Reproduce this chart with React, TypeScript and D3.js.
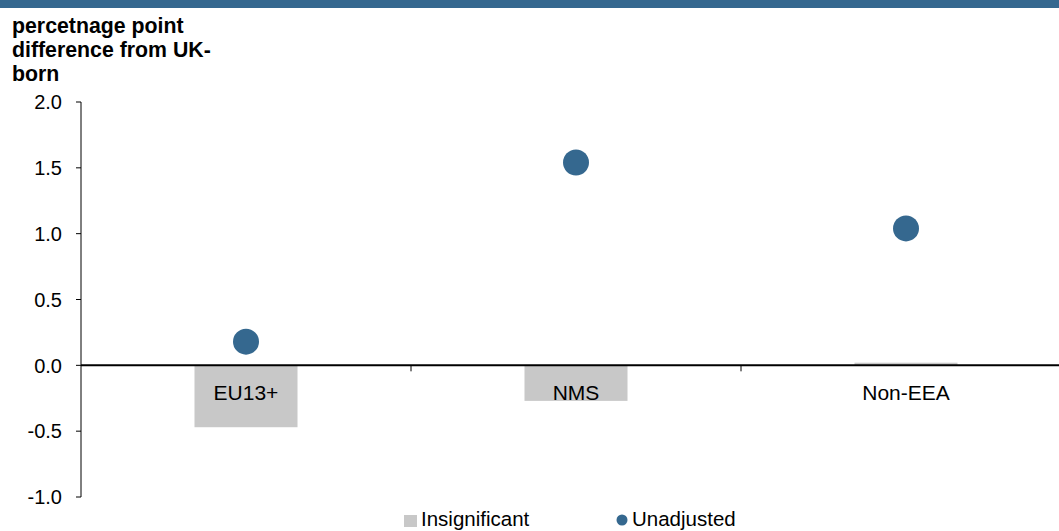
import React from "react";
import * as d3 from "d3";

const categories = ["EU13+", "NMS", "Non-EEA"];
const insignificant = [-0.47, -0.27, 0.02];
const unadjusted = [0.18, 1.54, 1.04];
const yTicks = [2.0, 1.5, 1.0, 0.5, 0.0, -0.5, -1.0];
const titleLines = ["percetnage point", "difference from UK-", "born"];

const W = 1059;
const H = 531;
const FONT = "'Liberation Sans', Arial, sans-serif";
const BLUE = "#35688f";
const GREY = "#c8c8c8";

export default function App() {
  const x0 = 81;
  const band = 330;
  const x = d3
    .scaleBand<string>()
    .domain(categories)
    .range([x0, x0 + band * categories.length]);
  const y = d3.scaleLinear().domain([-1, 2]).range([497, 102]);
  const y0 = y(0);
  const bw = 103;
  const cxOf = (c: string) => (x(c) as number) + x.bandwidth() / 2;

  return (
    <svg
      width={W}
      height={H}
      style={{ position: "fixed", left: 0, top: 0, background: "#fff" }}
      fontFamily={FONT}
    >
      <rect x={0} y={0} width={W} height={8} fill={BLUE} />
      {titleLines.map((t, i) => (
        <text key={t} x={12} y={33 + i * 24} fontSize={21.3} fontWeight="bold" fill="#000">
          {t}
        </text>
      ))}
      {/* bars */}
      {categories.map((c, i) => {
        const v = insignificant[i];
        return (
          <rect
            key={c}
            x={cxOf(c) - bw / 2}
            y={Math.min(y(v), y0)}
            width={bw}
            height={Math.abs(y(v) - y0)}
            fill={GREY}
          />
        );
      })}
      {/* y axis */}
      <line x1={x0} x2={x0} y1={y(2)} y2={y(-1)} stroke="#000" strokeWidth={1} />
      {yTicks.map((t) => (
        <g key={t}>
          <line x1={x0 - 5} x2={x0} y1={y(t)} y2={y(t)} stroke="#000" />
          <text x={62} y={y(t)} dy="0.36em" textAnchor="end" fontSize={20} fill="#000">
            {t.toFixed(1)}
          </text>
        </g>
      ))}
      {/* x axis */}
      <line x1={x0} x2={W} y1={y0} y2={y0} stroke="#000" strokeWidth={2} />
      {categories.map((c, i) =>
        i > 0 ? (
          <line key={c} x1={x(c)} x2={x(c)} y1={y0} y2={y0 + 6} stroke="#000" />
        ) : null
      )}
      {categories.map((c) => (
        <text key={c} x={cxOf(c)} y={400} textAnchor="middle" fontSize={21} fill="#000">
          {c}
        </text>
      ))}
      {/* points */}
      {categories.map((c, i) => (
        <circle key={c} cx={cxOf(c)} cy={y(unadjusted[i])} r={13} fill={BLUE} />
      ))}
      {/* legend */}
      <rect x={404} y={515} width={13} height={12} fill={GREY} />
      <text x={421} y={526} fontSize={20.5} fill="#000">Insignificant</text>
      <circle cx={622} cy={520} r={5.5} fill={BLUE} />
      <text x={632} y={526} fontSize={20.5} fill="#000">Unadjusted</text>
    </svg>
  );
}
